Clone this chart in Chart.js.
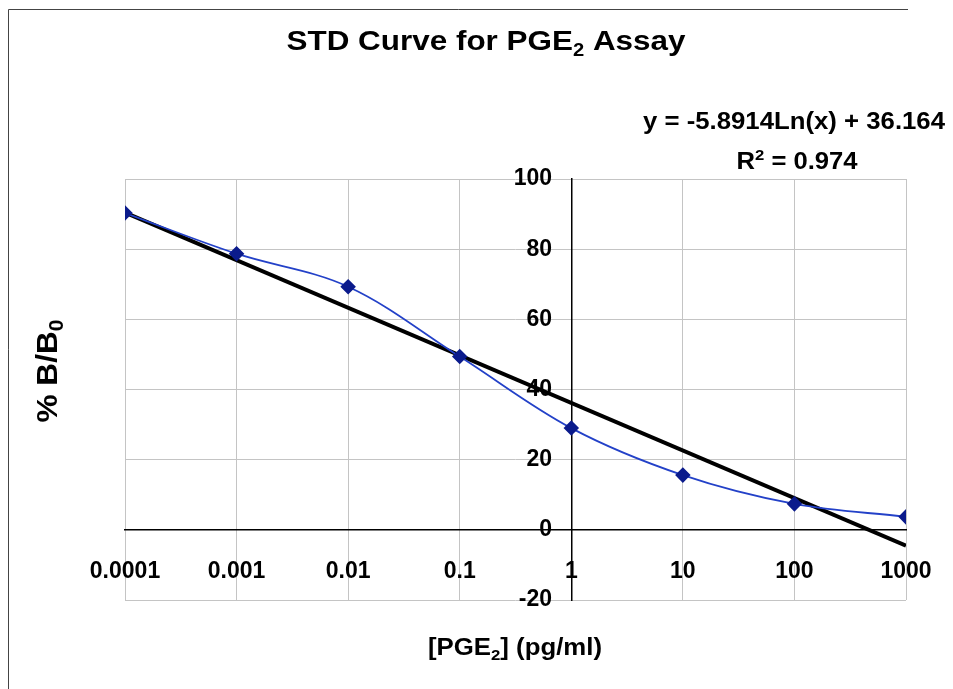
<!DOCTYPE html>
<html>
<head>
<meta charset="utf-8">
<script src="https://cdn.jsdelivr.net/npm/chart.js@4.4.1/dist/chart.umd.min.js"></script>
<style>
  html, body { margin: 0; padding: 0; background: #fff; }
</style>
</head>
<body>
<canvas id="chart" width="953" height="689"></canvas>
<script>
// PGE2 standard curve
const concentrations = [0.0001, 0.001, 0.01, 0.1, 1, 10, 100, 1000];
const percentBound = [90.3, 78.7, 69.3, 49.4, 29.0, 15.6, 7.4, 3.7];

// log trendline end points (y = -5.8914Ln(x) + 36.164)
const trendX = [0.0001, 1000];
const trendY = [90.4, -4.5];

const xTickValues = [0.0001, 0.001, 0.01, 0.1, 1, 10, 100, 1000];
const xTickLabels = ["0.0001", "0.001", "0.01", "0.1", "1", "10", "100", "1000"];
const yTickValues = [-20, 0, 20, 40, 60, 80, 100];

const FONT = '"Liberation Sans", Arial, sans-serif';

// draws text with sub/superscripts, squeezed or stretched to a given width
function drawRich(ctx, parts, cx, base, size, width, rotate) {
    ctx.save();
    ctx.translate(cx, base);
    if (rotate) ctx.rotate(-Math.PI / 2);
    const fontFor = p => `bold ${p.s ? Math.round(size * 0.65) : size}px ${FONT}`;
    let natural = 0;
    parts.forEach(p => { ctx.font = fontFor(p); natural += ctx.measureText(p.t).width; });
    ctx.scale(width / natural, 1);
    ctx.fillStyle = "#000";
    ctx.textAlign = "left";
    ctx.textBaseline = "alphabetic";
    let x = -natural / 2;
    parts.forEach(p => {
        ctx.font = fontFor(p);
        const dy = p.s === "sub" ? size * 0.2 : p.s === "sup" ? -size * 0.4 : 0;
        ctx.fillText(p.t, x, dy);
        x += ctx.measureText(p.t).width;
    });
    ctx.restore();
}

const textPlugin = {
    id: "texts",
    beforeDraw(chart) {
        const ctx = chart.ctx;
        ctx.save();
        ctx.fillStyle = "#fff";
        ctx.fillRect(0, 0, chart.width, chart.height);
        ctx.strokeStyle = "#444";
        ctx.lineWidth = 1;
        ctx.beginPath();
        ctx.moveTo(8.5, chart.height);
        ctx.lineTo(8.5, 9.5);
        ctx.lineTo(908, 9.5);
        ctx.stroke();
        ctx.restore();
    },
    afterDraw(chart) {
        const ctx = chart.ctx;
        drawRich(ctx, [{t: "STD Curve for PGE"}, {t: "2", s: "sub"}, {t: " Assay"}], 486, 50, 28, 399);
        drawRich(ctx, [{t: "y = -5.8914Ln(x) + 36.164"}], 794, 129, 23, 302);
        drawRich(ctx, [{t: "R"}, {t: "2", s: "sup"}, {t: " = 0.974"}], 797, 169, 23, 121);
        drawRich(ctx, [{t: "[PGE"}, {t: "2", s: "sub"}, {t: "] (pg/ml)"}], 515, 655, 23, 174);
        drawRich(ctx, [{t: "% B/B"}, {t: "0", s: "sub"}], 57, 371, 30, 103, true);
    }
};

const tickFont = {family: FONT, size: 23, weight: "bold"};

new Chart(document.querySelector("#chart"), {
    type: "line",
    data: {
        datasets: [
            {
                label: "Standards",
                data: concentrations.map((x, i) => ({x: x, y: percentBound[i]})),
                borderColor: "#2341c8",
                borderWidth: 1.8,
                tension: 0.35,
                pointStyle: "rectRot",
                pointRadius: 6.5,
                pointBackgroundColor: "#0b1b8c",
                pointBorderColor: "#0b1b8c"
            },
            {
                label: "Log trend",
                data: trendX.map((x, i) => ({x: x, y: trendY[i]})),
                borderColor: "#000",
                borderWidth: 4,
                pointRadius: 0,
                tension: 0
            }
        ]
    },
    options: {
        responsive: false,
        animation: false,
        layout: {padding: {left: 125, right: 47, top: 179, bottom: 89}},
        plugins: {legend: {display: false}, tooltip: {enabled: false}},
        scales: {
            x: {
                type: "logarithmic",
                min: 0.0001,
                max: 1000,
                position: {y: 0},
                afterBuildTicks: scale => { scale.ticks = xTickValues.map(v => ({value: v})); },
                ticks: {
                    callback: v => xTickLabels[xTickValues.indexOf(v)],
                    font: tickFont,
                    color: "#000",
                    padding: 20,
                    autoSkip: false,
                    maxRotation: 0
                },
                grid: {color: "#c4c4c4", tickLength: 8},
                border: {color: "#000", width: 1.5}
            },
            y: {
                min: -20,
                max: 100,
                position: {x: 1},
                afterBuildTicks: scale => { scale.ticks = yTickValues.map(v => ({value: v})); },
                ticks: {
                    callback: v => v + "   ",
                    font: tickFont,
                    color: "#000"
                },
                grid: {color: "#c4c4c4", tickLength: 8},
                border: {color: "#000", width: 1.5}
            }
        }
    },
    plugins: [textPlugin]
});
</script>
</body>
</html>
